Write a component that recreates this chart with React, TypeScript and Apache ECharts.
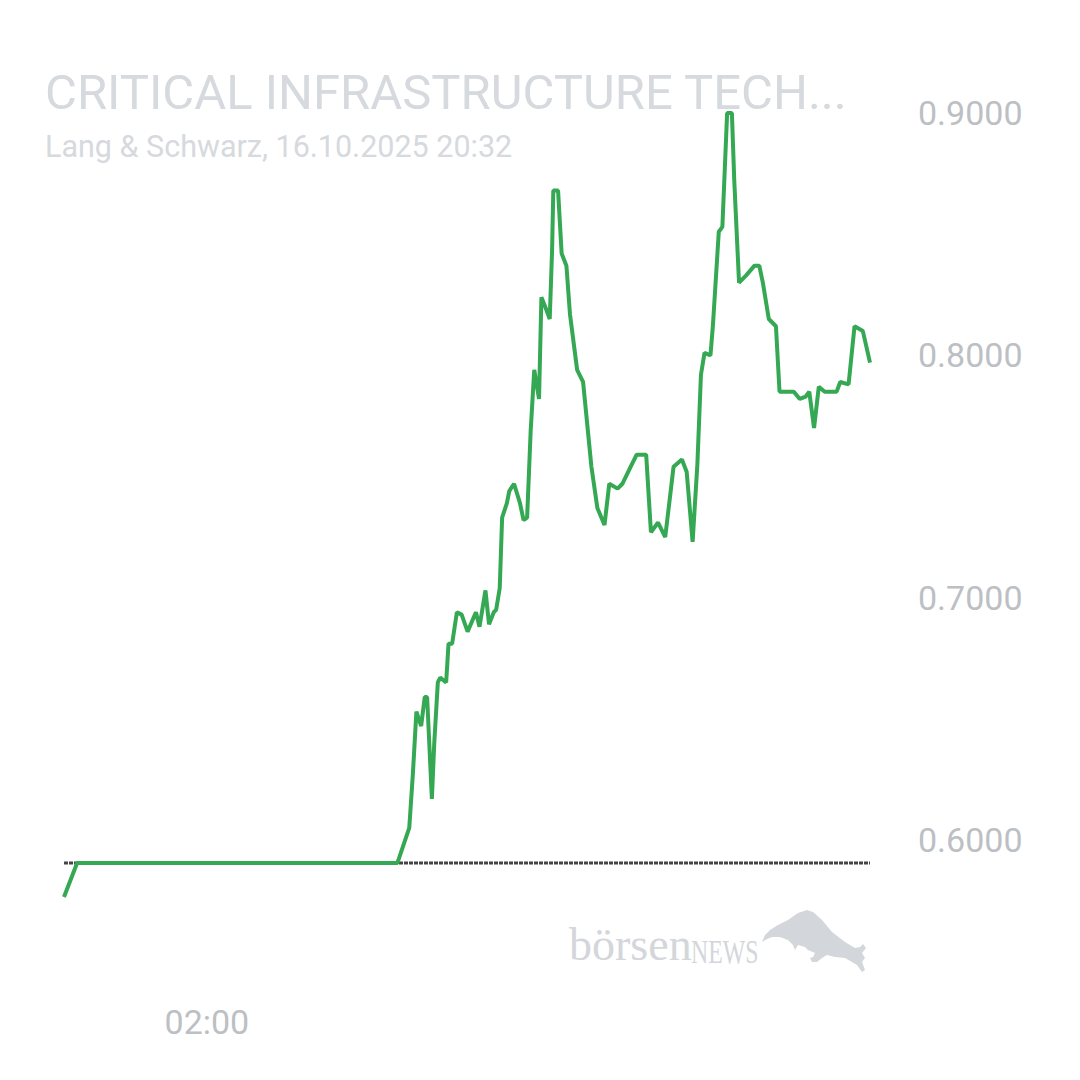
import { useEffect, useRef } from 'react';
import * as echarts from 'echarts';

// minutes since 00:00 and quote (EUR)
const times = [
  0, 11, 280, 290, 293, 296, 300, 303, 305, 309, 311, 314, 316, 321, 323, 326, 330, 334, 339, 346,
  349, 354, 357, 361, 363, 366, 368, 372, 374, 378, 383, 386, 389, 392, 395, 399, 401, 405, 408, 410,
  411, 415, 418, 422, 425, 431, 436, 443, 448, 454, 458, 465, 469, 475, 481, 489, 493, 499, 505, 512,
  519, 523, 528, 532, 535, 538, 543, 545, 550, 553, 557, 561, 563, 567, 573, 580, 584, 587, 592, 598,
  601, 608, 613, 618, 623, 626, 630, 634, 639, 649, 652, 659, 664, 671, 677,
];
const prices = [
  0.5765, 0.5905, 0.5905, 0.605, 0.627, 0.653, 0.647, 0.659, 0.659, 0.617, 0.64, 0.665, 0.667, 0.665, 0.681, 0.681, 0.694, 0.693, 0.686, 0.694,
  0.688, 0.703, 0.689, 0.694, 0.695, 0.704, 0.733, 0.739, 0.744, 0.747, 0.739, 0.732, 0.733, 0.769, 0.794, 0.782, 0.824, 0.819, 0.815, 0.844,
  0.868, 0.868, 0.842, 0.837, 0.817, 0.794, 0.789, 0.754, 0.737, 0.73, 0.747, 0.745, 0.747, 0.753, 0.759, 0.759, 0.727, 0.731, 0.725, 0.754,
  0.757, 0.752, 0.723, 0.755, 0.792, 0.801, 0.8, 0.812, 0.851, 0.853, 0.9, 0.9, 0.872, 0.83, 0.833, 0.837, 0.837, 0.83, 0.815, 0.812,
  0.785, 0.785, 0.785, 0.782, 0.783, 0.785, 0.77, 0.787, 0.785, 0.785, 0.789, 0.788, 0.812, 0.81, 0.797,
];
const prevClose = 0.5905;
const xTicks = [120];

const title = 'CRITICAL INFRASTRUCTURE TECH...';
const subtitle = 'Lang & Schwarz, 16.10.2025 20:32';

const fmtTime = (m: number) =>
  `${String(Math.floor(m / 60)).padStart(2, '0')}:${String(m % 60).padStart(2, '0')}`;

export default function App() {
  const chartRef = useRef<HTMLDivElement>(null);

  useEffect(() => {
    if (!chartRef.current) return;
    const chart = echarts.init(chartRef.current, null, { renderer: 'svg' });
    const tEnd = times[times.length - 1];

    chart.setOption({
      animation: false,
      backgroundColor: '#ffffff',
      textStyle: { fontFamily: 'Roboto' },
      title: {
        text: title,
        subtext: subtitle,
        left: 40,
        top: 63,
        itemGap: 14,
        textStyle: { color: '#d6d9dd', fontSize: 49, fontWeight: 'normal', fontFamily: 'Roboto' },
        subtextStyle: { color: '#d6d9dd', fontSize: 30.5, fontFamily: 'Roboto' },
      },
      grid: { left: 64, right: 210, top: 113, bottom: 240 },
      xAxis: {
        type: 'value',
        min: 0,
        max: tEnd,
        interval: 120,
        axisLine: { show: false },
        axisTick: { show: false },
        splitLine: { show: false },
        axisLabel: {
          color: '#bcbfc4',
          fontSize: 34,
          margin: 165,
          formatter: (v: number) => (xTicks.includes(v) ? fmtTime(v) : ''),
        },
      },
      yAxis: {
        type: 'value',
        position: 'right',
        min: 0.6,
        max: 0.9,
        interval: 0.1,
        axisLine: { show: false },
        axisTick: { show: false },
        splitLine: { show: false },
        axisLabel: {
          color: '#bcbfc4',
          fontSize: 34,
          margin: 48,
          formatter: (v: number) => v.toFixed(4),
        },
      },
      graphic: [
        {
          type: 'text',
          left: 569,
          top: 921,
          style: { text: 'börsen', fill: '#d3d6da', fontSize: 46, fontFamily: 'Liberation Serif' },
        },
        {
          type: 'text',
          x: 691,
          y: 934,
          scaleX: 0.7,
          style: { text: 'NEWS', fill: '#d3d6da', fontSize: 34, fontFamily: 'Liberation Serif' },
        },
        {
          type: 'polygon',
          shape: {
            points: [
              [762, 942], [765, 935], [770, 930], [778, 925], [788, 920], [798, 913], [807, 910],
              [813, 912], [822, 920], [832, 932], [845, 942], [855, 948], [860, 947], [863, 944],
              [866, 948], [862, 953], [865, 958], [862, 962], [865, 970], [862, 972], [857, 965],
              [852, 962], [845, 958], [835, 957], [827, 955], [822, 958], [817, 962], [812, 962],
              [810, 958], [813, 957], [815, 953], [808, 950], [805, 947], [798, 945], [795, 950],
              [793, 945], [788, 940], [780, 937], [772, 937], [767, 939],
            ],
          },
          style: { fill: '#d3d6da' },
        },
      ],
      series: [
        {
          // previous close
          type: 'line',
          z: 1,
          clip: false,
          silent: true,
          showSymbol: false,
          data: [[0, prevClose], [tEnd, prevClose]],
          lineStyle: { color: '#444444', width: 3, type: [4, 1] },
        },
        {
          type: 'line',
          z: 3,
          clip: false,
          showSymbol: false,
          data: times.map((t, i) => [t, prices[i]]),
          lineStyle: { color: '#34a853', width: 4 },
          itemStyle: { color: '#34a853' },
        },
      ],
    });

    return () => chart.dispose();
  }, []);

  return (
    <div
      ref={chartRef}
      style={{ position: 'fixed', left: 0, top: 0, width: 1080, height: 1080 }}
    />
  );
}
